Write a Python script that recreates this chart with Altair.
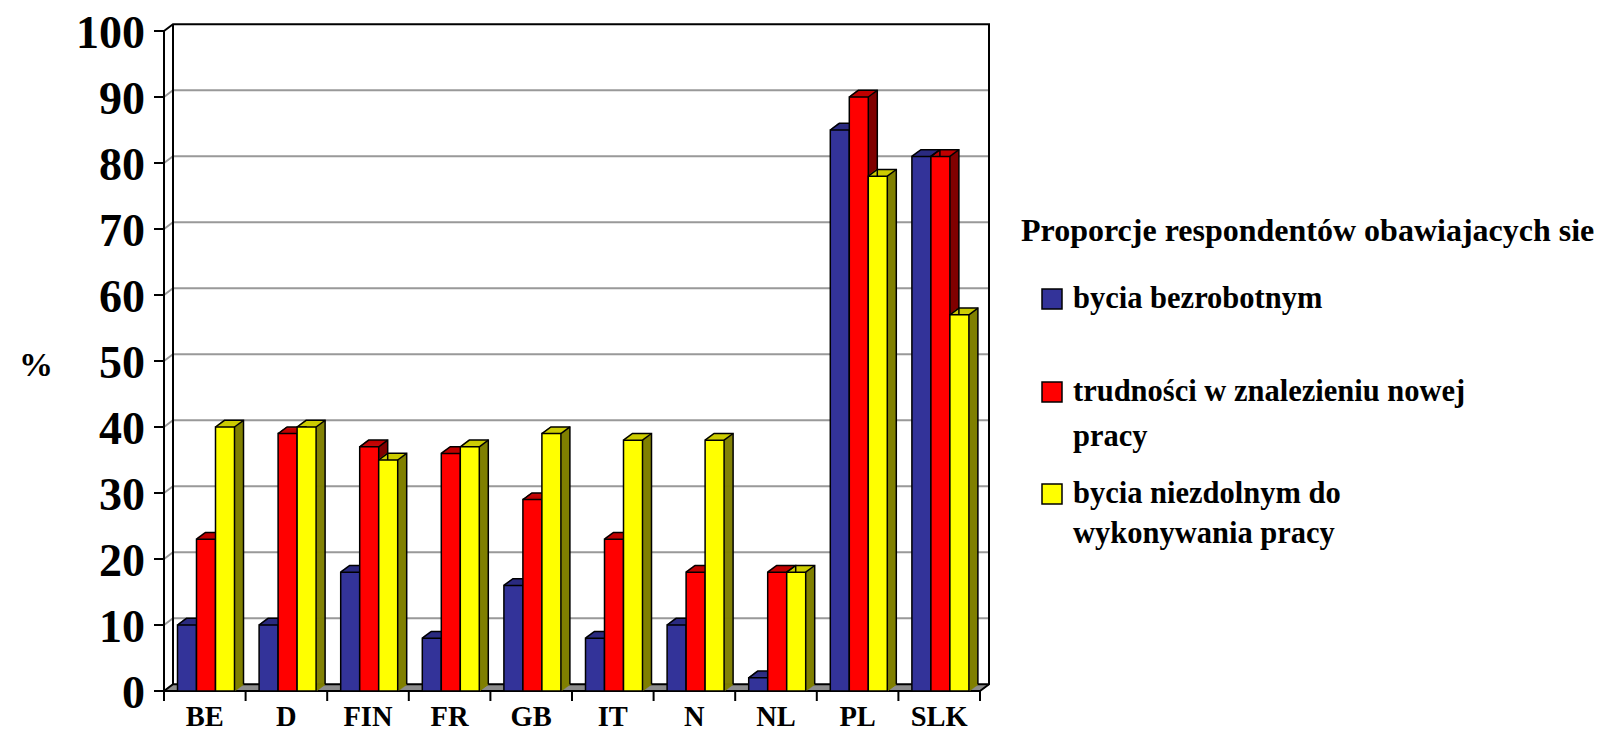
import altair as alt
import pandas as pd

# ---------------- data ----------------
COUNTRIES = ["BE", "D", "FIN", "FR", "GB", "IT", "N", "NL", "PL", "SLK"]
SERIES = [
    "bycia bezrobotnym",
    "trudności w znalezieniu nowej pracy",
    "bycia niezdolnym do wykonywania pracy",
]
BYCIA_BEZROBOTNYM = [10, 10, 18, 8, 16, 8, 10, 2, 85, 81]
TRUDNOSCI_W_ZNALEZIENIU = [23, 39, 37, 36, 29, 23, 18, 18, 90, 81]
BYCIA_NIEZDOLNYM = [40, 40, 35, 37, 39, 38, 38, 18, 78, 57]
Y_TICKS = [0, 10, 20, 30, 40, 50, 60, 70, 80, 90, 100]
Y_TITLE = "%"
LEGEND_TITLE = "Proporcje respondentów obawiajacych sie"
LEGEND_LINES = [
    ["bycia bezrobotnym"],
    ["trudności w znalezieniu nowej", "pracy"],
    ["bycia niezdolnym do", "wykonywania pracy"],
]

# ---------------- styles ----------------
FRONT_COLORS = ["#333399", "#FF0000", "#FFFF00"]
SIDE_COLORS = ["#1F1F5C", "#800000", "#808000"]
TOP_COLORS = ["#2B2B80", "#C00000", "#CCCC00"]
FONT = "Liberation Serif"

# ---------------- layout (px) ----------------
PAD_LEFT, PAD_TOP = 156, 16
W, H = 825, 667
TOTAL_W, TOTAL_H = 1586, 724
SLOT_PX = 81.6
UNIT_PX = 6.6
X_MAX = W / SLOT_PX
Y_MAX = H / UNIT_PX
DX = 9 / SLOT_PX
DY = 6.7 / UNIT_PX
BAR_W = 19 / SLOT_PX
BAR_OFF = 13.5 / SLOT_PX
SIDE_STRIPS = 9
TOP_STRIPS = 7
N = len(COUNTRIES)
OX, OY = PAD_LEFT + 8, PAD_TOP + 8  # page position of plot origin

xs = alt.Scale(domain=[0, X_MAX], nice=False, zero=False)
ys = alt.Scale(domain=[0, Y_MAX], nice=False, zero=False)


def X(f):
    return alt.X(f, type="quantitative", scale=xs, axis=None, title=None)


def Y(f):
    return alt.Y(f, type="quantitative", scale=ys, axis=None, title=None, stack=None)


# ---------------- tables built from the arrays ----------------
values = [BYCIA_BEZROBOTNYM, TRUDNOSCI_W_ZNALEZIENIU, BYCIA_NIEZDOLNYM]
front_rows, side_rows, top_rows, edge_rows = [], [], [], []
for i, c in enumerate(COUNTRIES):
    for s, name in enumerate(SERIES):
        v = values[s][i]
        L = i + BAR_OFF + s * BAR_W
        R = L + BAR_W
        bid = f"{c}-{s}"
        front_rows.append(dict(series=name, L=L, R=R, v=v, base=0))
        # side face (parallelogram) as thin overlapping vertical strips
        sw = DX / SIDE_STRIPS
        for j in range(SIDE_STRIPS):
            f = (j + 0.5) / SIDE_STRIPS
            side_rows.append(dict(series=name, x1=R + j * sw, x2=R + min((j + 1.7) * sw, DX),
                                  y1=f * DY, y2=v + f * DY))
        # top face as thin overlapping horizontal strips
        th = DY / TOP_STRIPS
        for j in range(TOP_STRIPS):
            f = (j + 0.5) / TOP_STRIPS
            top_rows.append(dict(series=name, x1=L + f * DX, x2=R + f * DX,
                                 y1=v + j * th, y2=v + min((j + 1.7) * th, DY)))
        # outline edges
        edge_rows += [
            dict(g=bid + "a", k=0, x=L, y=v),
            dict(g=bid + "a", k=1, x=L + DX, y=v + DY),
            dict(g=bid + "a", k=2, x=R + DX, y=v + DY),
            dict(g=bid + "a", k=3, x=R + DX, y=DY),
            dict(g=bid + "b", k=0, x=R, y=v),
            dict(g=bid + "b", k=1, x=R + DX, y=v + DY),
        ]
front_df = pd.DataFrame(front_rows)
side_df = pd.DataFrame(side_rows)
top_df = pd.DataFrame(top_rows)
edge_df = pd.DataFrame(edge_rows)

# floor (grey parallelogram as strips + outline)
floor_rows = []
fh = DY / TOP_STRIPS
for j in range(TOP_STRIPS):
    f = (j + 0.5) / TOP_STRIPS
    floor_rows.append(dict(x1=f * DX, x2=N + f * DX, y1=j * fh, y2=min((j + 1.7) * fh, DY)))
floor = alt.Chart(pd.DataFrame(floor_rows)).mark_rect(color="#8C8C8C").encode(
    x=X("x1"), x2="x2", y=Y("y1"), y2="y2"
)

# gridlines on the back wall
grid_rows = []
for t in Y_TICKS[1:-1]:
    grid_rows += [
        dict(g=t, k=0, x=0, y=t),
        dict(g=t, k=1, x=DX, y=t + DY),
        dict(g=t, k=2, x=X_MAX, y=t + DY),
    ]
grid = alt.Chart(pd.DataFrame(grid_rows)).mark_line(
    color="#999999", strokeWidth=2
).encode(x=X("x"), y=Y("y"), detail="g:N", order="k:Q")

# wall frame and axis lines
top_v = Y_TICKS[-1]
frame_rows = [
    dict(g="a", k=0, x=0, y=top_v),
    dict(g="a", k=1, x=DX, y=top_v + DY),
    dict(g="a", k=2, x=X_MAX, y=top_v + DY),
    dict(g="a", k=3, x=X_MAX, y=DY),
    dict(g="a", k=4, x=N, y=0),
    dict(g="b", k=0, x=DX, y=DY),
    dict(g="b", k=1, x=DX, y=top_v + DY),
    dict(g="e", k=0, x=0, y=0),
    dict(g="e", k=1, x=DX, y=DY),
    dict(g="e", k=2, x=X_MAX, y=DY),
    dict(g="c", k=0, x=0, y=0),
    dict(g="c", k=1, x=0, y=top_v),
    dict(g="d", k=0, x=0, y=0),
    dict(g="d", k=1, x=N, y=0),
]
frame = alt.Chart(pd.DataFrame(frame_rows)).mark_line(
    color="black", strokeWidth=2
).encode(x=X("x"), y=Y("y"), detail="g:N", order="k:Q")

# y ticks and labels
ytick_df = pd.DataFrame({"t": Y_TICKS})
yticks = alt.Chart(ytick_df).mark_rule(color="black", strokeWidth=2).encode(
    y=Y("t"), x=alt.value(-10), x2=alt.value(0)
)
ylabels = alt.Chart(ytick_df).mark_text(
    font=FONT, fontSize=46, fontWeight="bold", color="black",
    align="right", baseline="middle", x=-19, dy=3,
).encode(y=Y("t"), text="t:Q")

# x ticks and category labels
xtick_df = pd.DataFrame({"i": list(range(N + 1))})
xticks = alt.Chart(xtick_df).mark_rule(color="black", strokeWidth=2).encode(
    x=X("i"), y=alt.value(H), y2=alt.value(H + 10)
)
cat_df = pd.DataFrame(dict(country=COUNTRIES, xc=[i + 0.5 for i in range(N)]))
cats = alt.Chart(cat_df).mark_text(
    font=FONT, fontSize=28.5, fontWeight="bold", color="black",
    align="center", baseline="alphabetic", y=726 - OY,
).encode(x=X("xc"), text="country:N")

# bars
sides = alt.Chart(side_df).mark_rect().encode(
    x=X("x1"), x2="x2", y=Y("y1"), y2="y2",
    color=alt.Color("series:N", scale=alt.Scale(domain=SERIES, range=SIDE_COLORS), legend=None),
)
tops = alt.Chart(top_df).mark_rect().encode(
    x=X("x1"), x2="x2", y=Y("y1"), y2="y2",
    color=alt.Color("series:N", scale=alt.Scale(domain=SERIES, range=TOP_COLORS), legend=None),
)
edges = alt.Chart(edge_df).mark_line(color="black", strokeWidth=1.5).encode(
    x=X("x"), y=Y("y"), detail="g:N", order="k:Q"
)
fronts = alt.Chart(front_df).mark_rect(stroke="black", strokeWidth=1.5).encode(
    x=X("L"), x2="R", y=Y("v"), y2="base",
    color=alt.Color("series:N", scale=alt.Scale(domain=SERIES, range=FRONT_COLORS), legend=None),
)

# y title
ytitle = alt.Chart(pd.DataFrame({"t": [Y_TITLE]})).mark_text(
    font=FONT, fontSize=34, fontWeight="bold", color="black",
    align="center", baseline="middle", x=36 - OX, y=366 - OY,
).encode(text="t:N")

# legend
legend_layers = [
    alt.Chart(pd.DataFrame({"t": [LEGEND_TITLE]})).mark_text(
        font=FONT, fontSize=32, fontWeight="bold", color="black",
        align="left", baseline="middle", x=1021 - OX, y=231 - OY,
    ).encode(text="t:N")
]
entry_y = [299, 392, 494]
line_gap = [0, 45, 40]
for s, name in enumerate(SERIES):
    legend_layers.append(
        alt.Chart(pd.DataFrame({"series": [name]})).mark_square(
            size=400, opacity=1, filled=True, stroke="black", strokeWidth=1.5,
            x=1052 - OX, y=entry_y[s] - OY,
        ).encode(
            color=alt.Color("series:N", scale=alt.Scale(domain=SERIES, range=FRONT_COLORS), legend=None)
        )
    )
    for j, line in enumerate(LEGEND_LINES[s]):
        legend_layers.append(
            alt.Chart(pd.DataFrame({"t": [line]})).mark_text(
                font=FONT, fontSize=30.5, fontWeight="bold", color="black",
                align="left", baseline="middle", x=1073 - OX,
                y=entry_y[s] + j * line_gap[s] - OY,
            ).encode(text="t:N")
        )

chart = alt.layer(
    floor, grid, frame, sides, tops, edges, fronts, yticks, ylabels, xticks, cats,
    ytitle, *legend_layers
).resolve_scale(color="independent").properties(
    width=W, height=H,
    autosize=alt.AutoSizeParams(type="none"),
    padding={"left": PAD_LEFT, "top": PAD_TOP,
             "right": TOTAL_W - PAD_LEFT - W, "bottom": TOTAL_H - PAD_TOP - H},
    background="white",
).configure_view(stroke=None)

chart.save("out.html", embed_options={"renderer": "svg", "actions": False})
